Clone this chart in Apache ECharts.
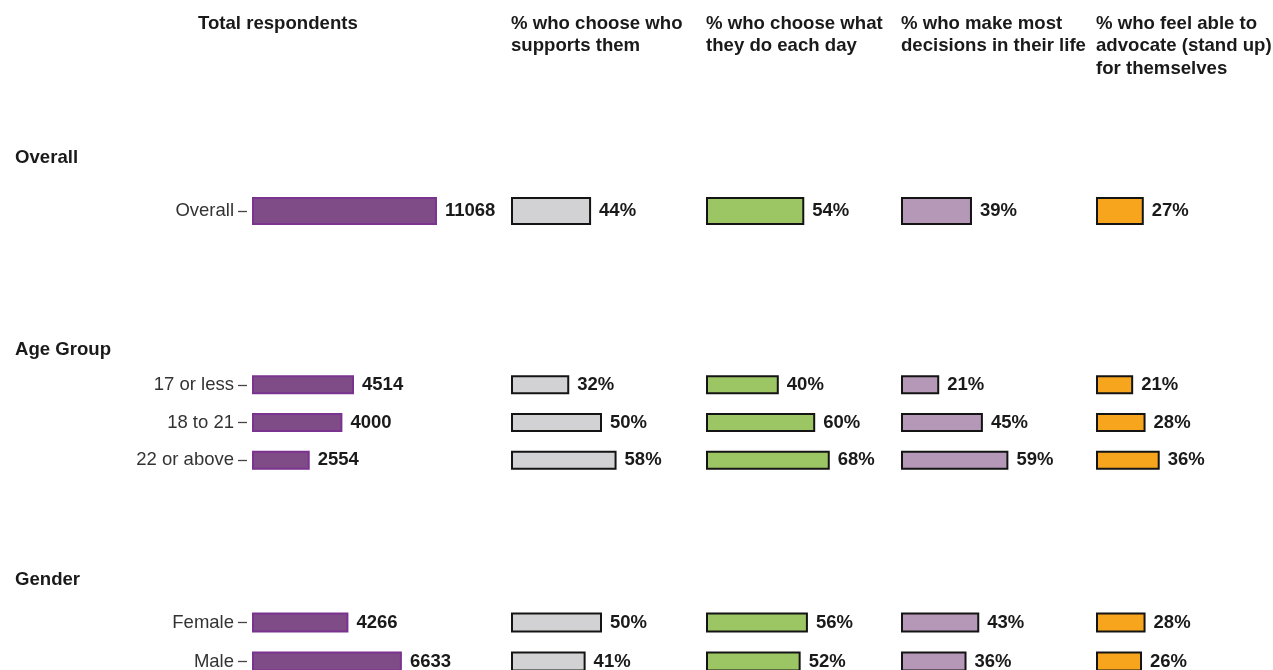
<!DOCTYPE html>
<html><head><meta charset="utf-8">
<script src="https://cdn.jsdelivr.net/npm/echarts@6/dist/echarts.min.js"></script>
<style>html,body{margin:0;padding:0;background:#fff;overflow:hidden}#c{width:1273px;height:720px}</style>
</head><body><div id="c"></div>
<script>
// ---- data ----
const groupNames = ['Overall', 'Age Group', 'Gender'];
const overallCategories = ['Overall'];
const ageCategories = ['17 or less', '18 to 21', '22 or above'];
const genderCategories = ['Female', 'Male'];
const overallTotals = [11068];
const ageTotals = [4514, 4000, 2554];
const genderTotals = [4266, 6633];
const columnTitles = [
  'Total respondents',
  '% who choose who\nsupports them',
  '% who choose what\nthey do each day',
  '% who make most\ndecisions in their life',
  '% who feel able to\nadvocate (stand up)\nfor themselves'
];
// percentages, rows in order: Overall | 17 or less, 18 to 21, 22 or above | Female, Male
const pctSupports = [44, 32, 50, 58, 50, 41];
const pctDaily = [54, 40, 60, 68, 56, 52];
const pctDecisions = [39, 21, 45, 59, 43, 36];
const pctAdvocate = [27, 21, 28, 36, 28, 26];

// ---- assembly ----
const groupCats = [overallCategories, ageCategories, genderCategories];
const groupTotals = [overallTotals, ageTotals, genderTotals];
const measures = [pctSupports, pctDaily, pctDecisions, pctAdvocate];
const FONT = "'Liberation Sans', Arial, Helvetica, sans-serif";

const groupLayout = [
  {top: 191, height: 40, barWidth: 28, headTop: 146, totalMax: 14360},
  {top: 366, height: 113, barWidth: 19, headTop: 338, totalMax: 10620},
  {top: 603, height: 78, barWidth: 20, headTop: 568, totalMax: 10620}
];
const colLeft = [252, 511, 706, 901, 1096];
const colWidth = [240, 182, 182, 182, 182];
const titleLeft = [198, 511, 706, 901, 1096];
const colStyle = [
  {fill: '#7f4c87', border: '#7b3390'},
  {fill: '#d2d2d4', border: '#141414'},
  {fill: '#9cc663', border: '#141414'},
  {fill: '#b597b7', border: '#141414'},
  {fill: '#f8a51e', border: '#141414'}
];

const grids = [], xAxes = [], yAxes = [], series = [], titles = [];
columnTitles.forEach((t, c) => {
  titles.push({text: t, left: titleLeft[c], top: 12.5, padding: 0,
    textStyle: {fontFamily: FONT, fontSize: 18.6, fontWeight: 'bold', color: '#1a1a1a', lineHeight: 22.5}});
});
groupNames.forEach((g, gi) => {
  titles.push({text: g, left: 15, top: groupLayout[gi].headTop, padding: 0,
    textStyle: {fontFamily: FONT, fontSize: 18.6, fontWeight: 'bold', color: '#1a1a1a', lineHeight: 24}});
});

let offset = 0;
groupCats.forEach((cats, gi) => {
  const L = groupLayout[gi];
  for (let c = 0; c < 5; c++) {
    const idx = grids.length;
    grids.push({left: colLeft[c], width: colWidth[c], top: L.top, height: L.height, containLabel: false});
    xAxes.push({gridIndex: idx, type: 'value', min: 0, max: c === 0 ? L.totalMax : 100, show: false});
    yAxes.push({
      gridIndex: idx, type: 'category', data: cats, inverse: true, show: c === 0, offset: 5,
      axisLine: {show: false, onZero: false},
      axisTick: {show: true, alignWithLabel: true, length: 9, lineStyle: {color: '#444', width: 1.3}},
      axisLabel: {fontFamily: FONT, fontSize: 18.5, color: '#333', margin: 13}
    });
    const vals = c === 0 ? groupTotals[gi] : measures[c - 1].slice(offset, offset + cats.length);
    series.push({
      type: 'bar', xAxisIndex: idx, yAxisIndex: idx, data: vals, barWidth: L.barWidth,
      itemStyle: {color: colStyle[c].fill, borderColor: colStyle[c].border, borderWidth: 2},
      label: {show: true, position: 'right', distance: 8, fontFamily: FONT, fontSize: 18.5,
        fontWeight: 'bold', color: '#1a1a1a', formatter: c === 0 ? '{c}' : '{c}%'},
      silent: true
    });
  }
  offset += cats.length;
});

const chart = echarts.init(document.getElementById('c'), null, {renderer: 'canvas'});
chart.setOption({
  animation: false, backgroundColor: '#ffffff',
  title: titles, grid: grids, xAxis: xAxes, yAxis: yAxes, series: series
});
</script></body></html>
